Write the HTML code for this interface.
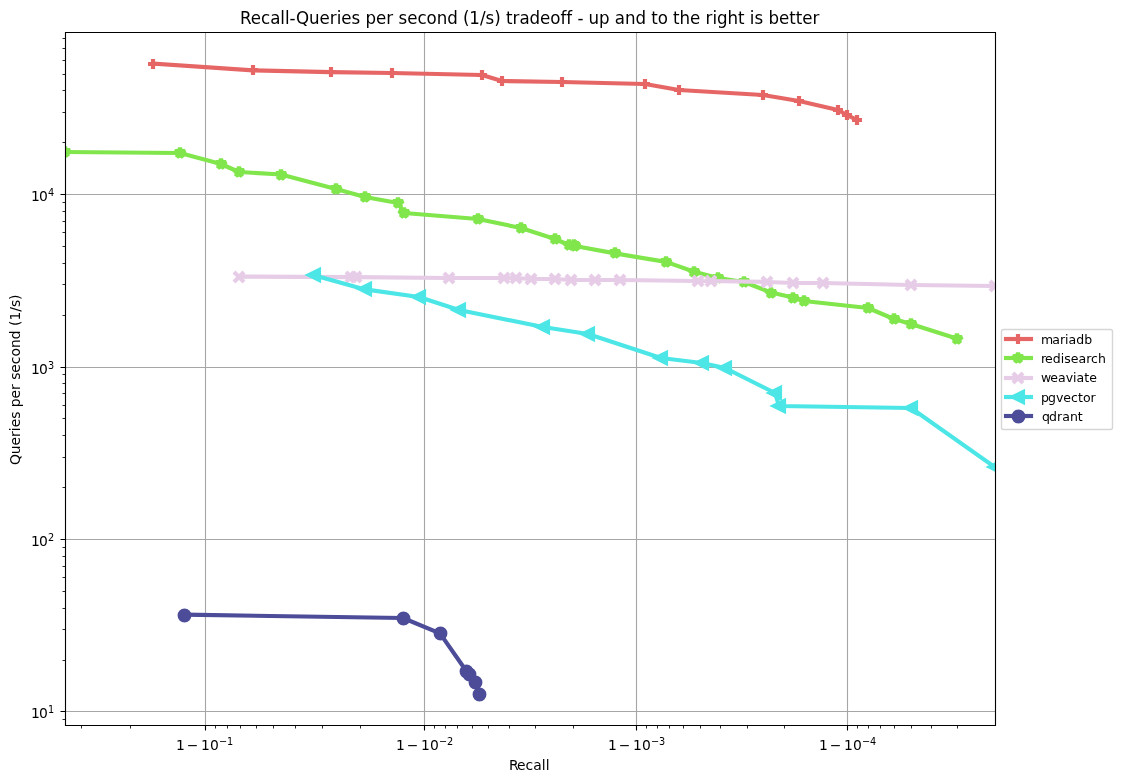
<!DOCTYPE html>
<html lang="en">
<head>
<meta charset="utf-8">
<title>Recall-Queries per second (1/s) tradeoff</title>
<style>
html,body{margin:0;padding:0;background:#ffffff;}
body{width:1121px;height:783px;overflow:hidden;font-family:"DejaVu Sans","Liberation Sans",sans-serif;}
svg{display:block;}
svg text{white-space:pre;}
</style>
</head>
<body>
<svg width="1121" height="783" viewBox="0 0 1121 783">
<rect x="0" y="0" width="1121" height="783" fill="#ffffff"/>
<clipPath id="axclip"><rect x="65" y="32" width="930" height="693"/></clipPath>
<path d="M205.5 725.5V32.5M424.5 725.5V32.5M636.5 725.5V32.5M847.5 725.5V32.5" fill="none" stroke="#a6a6a6" stroke-width="1.111" stroke-linecap="square" clip-path="url(#axclip)"/>
<path d="M205.5 725.5v5M424.5 725.5v5M636.5 725.5v5M847.5 725.5v5" fill="none" stroke="#000000" stroke-width="1.111"/>
<path d="M81.5 725.5v3M130.5 725.5v3M215.5 725.5v3M227.5 725.5v3M240.5 725.5v3M256.5 725.5v3M273.5 725.5v3M295.5 725.5v3M322.5 725.5v3M360.5 725.5v3M434.5 725.5v3M445.5 725.5v3M457.5 725.5v3M472.5 725.5v3M488.5 725.5v3M509.5 725.5v3M535.5 725.5v3M573.5 725.5v3M646.5 725.5v3M657.5 725.5v3M669.5 725.5v3M683.5 725.5v3M700.5 725.5v3M720.5 725.5v3M747.5 725.5v3M784.5 725.5v3M857.5 725.5v3M868.5 725.5v3M880.5 725.5v3M894.5 725.5v3M911.5 725.5v3M931.5 725.5v3M957.5 725.5v3" fill="none" stroke="#000000" stroke-width="0.833"/>
<path d="M65.5 711.5H995.5M65.5 539.5H995.5M65.5 367.5H995.5M65.5 194.5H995.5" fill="none" stroke="#a6a6a6" stroke-width="1.111" stroke-linecap="square" clip-path="url(#axclip)"/>
<path d="M65.5 711.5h-5M65.5 539.5h-5M65.5 367.5h-5M65.5 194.5h-5" fill="none" stroke="#000000" stroke-width="1.111"/>
<path d="M65.5 719.5h-3M65.5 660.5h-3M65.5 629.5h-3M65.5 608.5h-3M65.5 591.5h-3M65.5 577.5h-3M65.5 566.5h-3M65.5 556.5h-3M65.5 547.5h-3M65.5 487.5h-3M65.5 457.5h-3M65.5 435.5h-3M65.5 418.5h-3M65.5 405.5h-3M65.5 393.5h-3M65.5 383.5h-3M65.5 374.5h-3M65.5 315.5h-3M65.5 284.5h-3M65.5 263.5h-3M65.5 246.5h-3M65.5 232.5h-3M65.5 221.5h-3M65.5 211.5h-3M65.5 202.5h-3M65.5 142.5h-3M65.5 112.5h-3M65.5 90.5h-3M65.5 74.5h-3M65.5 60.5h-3M65.5 48.5h-3M65.5 38.5h-3" fill="none" stroke="#000000" stroke-width="0.833"/>
<path d="M153 63.6L253 70.3L331 72.2L392 73L482 75L502 81L562 82L645 84L679 90L763 95L799 101L838 110L847 115L857 120" fill="none" stroke="#e66666" stroke-width="4.167" stroke-linejoin="round" stroke-linecap="square" clip-path="url(#axclip)"/>
<g fill="none" stroke="#e66666" stroke-width="4.167" stroke-linejoin="miter" stroke-linecap="butt" stroke-miterlimit="10" clip-path="url(#axclip)">
<path transform="translate(153 64)" d="M-5 0L5 0M0 5L0 -5"/>
<path transform="translate(253 70)" d="M-5 0L5 0M0 5L0 -5"/>
<path transform="translate(331 72)" d="M-5 0L5 0M0 5L0 -5"/>
<path transform="translate(392 73)" d="M-5 0L5 0M0 5L0 -5"/>
<path transform="translate(482 75)" d="M-5 0L5 0M0 5L0 -5"/>
<path transform="translate(502 81)" d="M-5 0L5 0M0 5L0 -5"/>
<path transform="translate(562 82)" d="M-5 0L5 0M0 5L0 -5"/>
<path transform="translate(645 84)" d="M-5 0L5 0M0 5L0 -5"/>
<path transform="translate(679 90)" d="M-5 0L5 0M0 5L0 -5"/>
<path transform="translate(763 95)" d="M-5 0L5 0M0 5L0 -5"/>
<path transform="translate(799 101)" d="M-5 0L5 0M0 5L0 -5"/>
<path transform="translate(838 110)" d="M-5 0L5 0M0 5L0 -5"/>
<path transform="translate(847 115)" d="M-5 0L5 0M0 5L0 -5"/>
<path transform="translate(857 120)" d="M-5 0L5 0M0 5L0 -5"/>
</g>
<path d="M64.64 152L180 153L221 164L239 172L281 174.5L336 189L365 197L398 203L404 213L478 219L521 228L555 239L569 245L574 245L575 246L615 253.4L666 261.9L694.2 271.8L718 278L744 282L771 292.5L793 297.5L804 301L868 308L894 319L911 324L957 338.7" fill="none" stroke="#80e64c" stroke-width="4.167" stroke-linejoin="round" stroke-linecap="square" clip-path="url(#axclip)"/>
<g fill="#80e64c" stroke="#80e64c" stroke-width="4.167" stroke-linejoin="bevel" stroke-linecap="butt" stroke-miterlimit="10" clip-path="url(#axclip)">
<path transform="translate(65 152)" d="M0 -5L-1 -2L-5 -2L-2 1L-3 4L0 2L3 4L2 1L5 -2L1 -2Z"/>
<path transform="translate(180 153)" d="M0 -5L-1 -2L-5 -2L-2 1L-3 4L0 2L3 4L2 1L5 -2L1 -2Z"/>
<path transform="translate(221 164)" d="M0 -5L-1 -2L-5 -2L-2 1L-3 4L0 2L3 4L2 1L5 -2L1 -2Z"/>
<path transform="translate(239 172)" d="M0 -5L-1 -2L-5 -2L-2 1L-3 4L0 2L3 4L2 1L5 -2L1 -2Z"/>
<path transform="translate(281 175)" d="M0 -5L-1 -2L-5 -2L-2 1L-3 4L0 2L3 4L2 1L5 -2L1 -2Z"/>
<path transform="translate(336 189)" d="M0 -5L-1 -2L-5 -2L-2 1L-3 4L0 2L3 4L2 1L5 -2L1 -2Z"/>
<path transform="translate(365 197)" d="M0 -5L-1 -2L-5 -2L-2 1L-3 4L0 2L3 4L2 1L5 -2L1 -2Z"/>
<path transform="translate(398 203)" d="M0 -5L-1 -2L-5 -2L-2 1L-3 4L0 2L3 4L2 1L5 -2L1 -2Z"/>
<path transform="translate(404 213)" d="M0 -5L-1 -2L-5 -2L-2 1L-3 4L0 2L3 4L2 1L5 -2L1 -2Z"/>
<path transform="translate(478 219)" d="M0 -5L-1 -2L-5 -2L-2 1L-3 4L0 2L3 4L2 1L5 -2L1 -2Z"/>
<path transform="translate(521 228)" d="M0 -5L-1 -2L-5 -2L-2 1L-3 4L0 2L3 4L2 1L5 -2L1 -2Z"/>
<path transform="translate(555 239)" d="M0 -5L-1 -2L-5 -2L-2 1L-3 4L0 2L3 4L2 1L5 -2L1 -2Z"/>
<path transform="translate(569 245)" d="M0 -5L-1 -2L-5 -2L-2 1L-3 4L0 2L3 4L2 1L5 -2L1 -2Z"/>
<path transform="translate(574 245)" d="M0 -5L-1 -2L-5 -2L-2 1L-3 4L0 2L3 4L2 1L5 -2L1 -2Z"/>
<path transform="translate(575 246)" d="M0 -5L-1 -2L-5 -2L-2 1L-3 4L0 2L3 4L2 1L5 -2L1 -2Z"/>
<path transform="translate(615 253)" d="M0 -5L-1 -2L-5 -2L-2 1L-3 4L0 2L3 4L2 1L5 -2L1 -2Z"/>
<path transform="translate(666 262)" d="M0 -5L-1 -2L-5 -2L-2 1L-3 4L0 2L3 4L2 1L5 -2L1 -2Z"/>
<path transform="translate(694 272)" d="M0 -5L-1 -2L-5 -2L-2 1L-3 4L0 2L3 4L2 1L5 -2L1 -2Z"/>
<path transform="translate(718 278)" d="M0 -5L-1 -2L-5 -2L-2 1L-3 4L0 2L3 4L2 1L5 -2L1 -2Z"/>
<path transform="translate(744 282)" d="M0 -5L-1 -2L-5 -2L-2 1L-3 4L0 2L3 4L2 1L5 -2L1 -2Z"/>
<path transform="translate(771 293)" d="M0 -5L-1 -2L-5 -2L-2 1L-3 4L0 2L3 4L2 1L5 -2L1 -2Z"/>
<path transform="translate(793 298)" d="M0 -5L-1 -2L-5 -2L-2 1L-3 4L0 2L3 4L2 1L5 -2L1 -2Z"/>
<path transform="translate(804 301)" d="M0 -5L-1 -2L-5 -2L-2 1L-3 4L0 2L3 4L2 1L5 -2L1 -2Z"/>
<path transform="translate(868 308)" d="M0 -5L-1 -2L-5 -2L-2 1L-3 4L0 2L3 4L2 1L5 -2L1 -2Z"/>
<path transform="translate(894 319)" d="M0 -5L-1 -2L-5 -2L-2 1L-3 4L0 2L3 4L2 1L5 -2L1 -2Z"/>
<path transform="translate(911 324)" d="M0 -5L-1 -2L-5 -2L-2 1L-3 4L0 2L3 4L2 1L5 -2L1 -2Z"/>
<path transform="translate(957 339)" d="M0 -5L-1 -2L-5 -2L-2 1L-3 4L0 2L3 4L2 1L5 -2L1 -2Z"/>
</g>
<path d="M239 276.6L351 277.15L356 277.15L449 278L504 278L516 278L531 279L555 279L571 280L595 280L620 280L698 281L711 281L767 282L793 283L823 283L911 285L994.64 286" fill="none" stroke="#e6cce6" stroke-width="4.167" stroke-linejoin="round" stroke-linecap="square" clip-path="url(#axclip)"/>
<g fill="none" stroke="#e6cce6" stroke-width="4.167" stroke-linejoin="miter" stroke-linecap="butt" stroke-miterlimit="10" clip-path="url(#axclip)">
<path transform="translate(239 277)" d="M-5 5L5 -5M-5 -5L5 5"/>
<path transform="translate(351 277)" d="M-5 5L5 -5M-5 -5L5 5"/>
<path transform="translate(356 277)" d="M-5 5L5 -5M-5 -5L5 5"/>
<path transform="translate(449 278)" d="M-5 5L5 -5M-5 -5L5 5"/>
<path transform="translate(504 278)" d="M-5 5L5 -5M-5 -5L5 5"/>
<path transform="translate(516 278)" d="M-5 5L5 -5M-5 -5L5 5"/>
<path transform="translate(531 279)" d="M-5 5L5 -5M-5 -5L5 5"/>
<path transform="translate(555 279)" d="M-5 5L5 -5M-5 -5L5 5"/>
<path transform="translate(571 280)" d="M-5 5L5 -5M-5 -5L5 5"/>
<path transform="translate(595 280)" d="M-5 5L5 -5M-5 -5L5 5"/>
<path transform="translate(620 280)" d="M-5 5L5 -5M-5 -5L5 5"/>
<path transform="translate(698 281)" d="M-5 5L5 -5M-5 -5L5 5"/>
<path transform="translate(711 281)" d="M-5 5L5 -5M-5 -5L5 5"/>
<path transform="translate(767 282)" d="M-5 5L5 -5M-5 -5L5 5"/>
<path transform="translate(793 283)" d="M-5 5L5 -5M-5 -5L5 5"/>
<path transform="translate(823 283)" d="M-5 5L5 -5M-5 -5L5 5"/>
<path transform="translate(911 285)" d="M-5 5L5 -5M-5 -5L5 5"/>
<path transform="translate(995 286)" d="M-5 5L5 -5M-5 -5L5 5"/>
</g>
<path d="M314 275.3L365 289.4L419 297L459 310L543 327L588 334L661 358L702 363L725 368L775 393L779 406L911 408L994.64 467" fill="none" stroke="#4ce6e6" stroke-width="4.167" stroke-linejoin="round" stroke-linecap="square" clip-path="url(#axclip)"/>
<g fill="#4ce6e6" stroke="#4ce6e6" stroke-width="4.167" stroke-linejoin="miter" stroke-linecap="butt" stroke-miterlimit="10" clip-path="url(#axclip)">
<path transform="translate(314 275)" d="M-5 0L5 5L5 -5Z"/>
<path transform="translate(365 289)" d="M-5 0L5 5L5 -5Z"/>
<path transform="translate(419 297)" d="M-5 0L5 5L5 -5Z"/>
<path transform="translate(459 310)" d="M-5 0L5 5L5 -5Z"/>
<path transform="translate(543 327)" d="M-5 0L5 5L5 -5Z"/>
<path transform="translate(588 334)" d="M-5 0L5 5L5 -5Z"/>
<path transform="translate(661 358)" d="M-5 0L5 5L5 -5Z"/>
<path transform="translate(702 363)" d="M-5 0L5 5L5 -5Z"/>
<path transform="translate(725 368)" d="M-5 0L5 5L5 -5Z"/>
<path transform="translate(775 393)" d="M-5 0L5 5L5 -5Z"/>
<path transform="translate(779 406)" d="M-5 0L5 5L5 -5Z"/>
<path transform="translate(911 408)" d="M-5 0L5 5L5 -5Z"/>
<path transform="translate(995 467)" d="M-5 0L5 5L5 -5Z"/>
</g>
<path d="M184 614.7L403 618L440 633.4L466.3 671L469 674L475 682L479.4 694.4" fill="none" stroke="#4c4c99" stroke-width="4.167" stroke-linejoin="round" stroke-linecap="square" clip-path="url(#axclip)"/>
<g fill="#4c4c99" stroke="#4c4c99" stroke-width="4.167" clip-path="url(#axclip)">
<circle cx="184.5" cy="615.5" r="4.861"/>
<circle cx="403.5" cy="618.5" r="4.861"/>
<circle cx="440.5" cy="633.5" r="4.861"/>
<circle cx="466.5" cy="671.5" r="4.861"/>
<circle cx="469.5" cy="674.5" r="4.861"/>
<circle cx="475.5" cy="682.5" r="4.861"/>
<circle cx="479.5" cy="694.5" r="4.861"/>
</g>
<path d="M65.5 725.5V32.5M995.5 725.5V32.5M65.5 725.5H995.5M65.5 32.5H995.5" fill="none" stroke="#000000" stroke-width="1.111" stroke-linecap="square"/>
<g font-family="'DejaVu Sans','Liberation Sans',sans-serif" fill="#000000">
<text y="718" font-size="13.889" x="31 39">10</text><text transform="translate(0 713) scale(1 1.05)" font-size="9.722" x="48">1</text>
<text y="546" font-size="13.889" x="31 39">10</text><text transform="translate(0 541) scale(1 1.05)" font-size="9.722" x="48">2</text>
<text y="374" font-size="13.889" x="31 39">10</text><text transform="translate(0 369) scale(1 1.05)" font-size="9.722" x="48">3</text>
<text y="201" font-size="13.889" x="31 39">10</text><text transform="translate(0 196) scale(1 1.05)" font-size="9.722" x="48">4</text>
<text y="750" font-size="13.889" x="176 186.75 201 210">1−10</text><text transform="translate(0 745) scale(1 1.05)" font-size="9.722" x="219 227">−1</text>
<text y="750" font-size="13.889" x="396 406.75 421 430">1−10</text><text transform="translate(0 745) scale(1 1.05)" font-size="9.722" x="439 447">−2</text>
<text y="750" font-size="13.889" x="608 618.75 633 642">1−10</text><text transform="translate(0 745) scale(1 1.05)" font-size="9.722" x="651 659">−3</text>
<text y="750" font-size="13.889" x="819 829.75 844 853">1−10</text><text transform="translate(0 745) scale(1 1.05)" font-size="9.722" x="862 870">−4</text>
<text transform="translate(240 24) scale(1 1.06)" font-size="16.667" x="0 10.875 21.125 30.25 40.375 45 49.625 56.125 69.125 79.625 89.875 96.75 101.375 111.625 120.375 125.625 136.125 146.375 153.25 158.5 167.25 177.5 186.625 196.75 207.25 217.75 223 229.375 240 245.625 254.375 260.875 266.125 272.625 279.5 289.625 300.125 310.375 320.5 326.375 332.25 337.5 343.375 348.625 359.125 369.625 374.875 385 395.5 406 411.25 417.75 427.875 433.125 439.625 450.125 460.375 465.625 472.5 477.125 487.625 498.125 504.625 509.875 514.5 523.25 528.5 539 549.25 555.75 562.25 572.5">Recall-Queries per second (1/s) tradeoff - up and to the right is better</text>
<text transform="translate(510 770)" font-size="13.889" x="-1 7 15.5 23.125 31.75 35.625">Recall</text>
<text transform="translate(20 465) rotate(-90)" font-size="13.889" x="0 10.875 19.625 28.125 33.875 37.75 46.25 53.375 57.75 66.625 75.125 80.875 85.25 92.375 100.875 108.5 117 125.75 134.625 139 144.5 153.375 158 165.125">Queries per second (1/s)</text>
</g>
<rect x="1001.5" y="329.5" width="111.0" height="100.0" rx="2" ry="2" fill="#ffffff" fill-opacity="0.8" stroke="#cccccc" stroke-opacity="0.8" stroke-width="1.389"/>
<path d="M1006 339H1031" fill="none" stroke="#e66666" stroke-width="4.167" stroke-linecap="square"/>
<g fill="none" stroke="#e66666" stroke-width="4.167" stroke-linejoin="miter" stroke-linecap="butt" stroke-miterlimit="10">
<path transform="translate(1018 339)" d="M-5 0L5 0M0 5L0 -5"/>
</g>
<path d="M1006 358H1031" fill="none" stroke="#80e64c" stroke-width="4.167" stroke-linecap="square"/>
<g fill="#80e64c" stroke="#80e64c" stroke-width="4.167" stroke-linejoin="bevel" stroke-linecap="butt" stroke-miterlimit="10">
<path transform="translate(1018 358)" d="M0 -5L-1 -2L-5 -2L-2 1L-3 4L0 2L3 4L2 1L5 -2L1 -2Z"/>
</g>
<path d="M1006 378H1031" fill="none" stroke="#e6cce6" stroke-width="4.167" stroke-linecap="square"/>
<g fill="none" stroke="#e6cce6" stroke-width="4.167" stroke-linejoin="miter" stroke-linecap="butt" stroke-miterlimit="10">
<path transform="translate(1018 378)" d="M-5 5L5 -5M-5 -5L5 5"/>
</g>
<path d="M1006 397H1031" fill="none" stroke="#4ce6e6" stroke-width="4.167" stroke-linecap="square"/>
<g fill="#4ce6e6" stroke="#4ce6e6" stroke-width="4.167" stroke-linejoin="miter" stroke-linecap="butt" stroke-miterlimit="10">
<path transform="translate(1018 397)" d="M-5 0L5 5L5 -5Z"/>
</g>
<path d="M1006 416H1031" fill="none" stroke="#4c4c99" stroke-width="4.167" stroke-linecap="square"/>
<g fill="#4c4c99" stroke="#4c4c99" stroke-width="4.167">
<circle cx="1018.5" cy="416.5" r="4.861"/>
</g>
<g font-family="'DejaVu Sans','Liberation Sans',sans-serif" fill="#000000">
<text transform="translate(1042 344)" font-size="12.5" x="-1 10.125 17.875 23 26.5 34.25 42.25">mariadb</text>
<text transform="translate(1042 363)" font-size="12.5" x="-1 2.875 10.625 18.625 22.125 28.625 36.375 44.125 49 56">redisearch</text>
<text transform="translate(1040.875 382)" font-size="12.5" x="0 9.25 17 24.75 32.125 35.625 43.375 48.25">weaviate</text>
<text transform="translate(1042 402)" font-size="12.5" x="-1 5.875 13.875 21.25 29 36 40.875 48.5">pgvector</text>
<text transform="translate(1042 421)" font-size="12.5" x="0 7 15 20.125 27.875 35.75">qdrant</text>
</g>
</svg>
</body>
</html>
